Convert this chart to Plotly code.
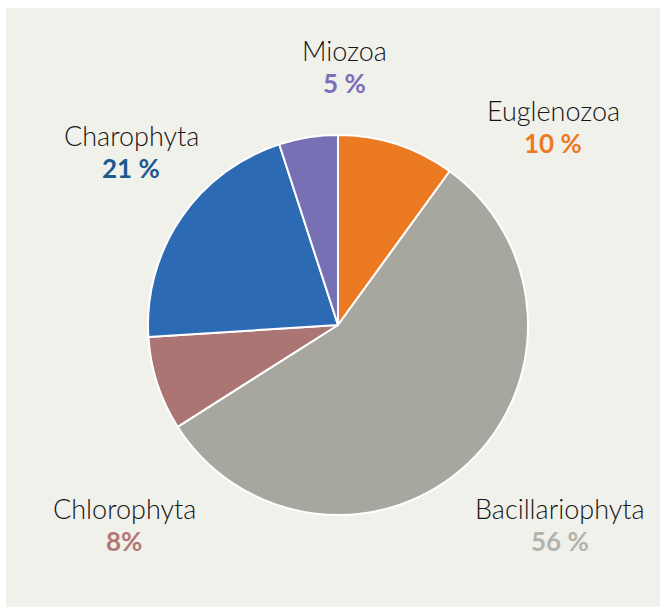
import plotly.graph_objects as go

W, H = 662, 609

categories = ["Euglenozoa", "Bacillariophyta", "Chlorophyta", "Charophyta", "Miozoa"]
values = [10, 56, 8, 21, 5]
pct_labels = ["10 %", "56 %", "8%", "21 %", "5 %"]
slice_colors = ["#ec7a23", "#a7a79f", "#ab7574", "#2d6ab4", "#7770b5"]
text_colors = ["#ec7a23", "#b3b3ac", "#b27878", "#1c5a8e", "#7b6fb8"]
# label centre positions in pixels (name line)
label_px = [(553, 110), (560, 508), (124, 508), (131, 135), (344, 50)]

cx, cy, r = 338, 325, 190

fig = go.Figure(go.Pie(
    labels=categories,
    values=values,
    sort=False,
    direction="clockwise",
    rotation=0,
    marker=dict(colors=slice_colors, line=dict(color="white", width=2)),
    textinfo="none",
    hoverinfo="label+percent",
    domain=dict(x=[(cx - r) / W, (cx + r) / W], y=[1 - (cy + r) / H, 1 - (cy - r) / H]),
    showlegend=False,
))

font_family = "Lato, 'Open Sans', sans-serif"
annotations = []
for name, pct, col, (px, py) in zip(categories, pct_labels, text_colors, label_px):
    annotations.append(dict(
        x=px / W, y=1 - py / H, xref="paper", yref="paper",
        text=name, showarrow=False, xanchor="center", yanchor="middle",
        font=dict(family=font_family, size=27, color="#151515", weight=300),
    ))
    annotations.append(dict(
        x=px / W, y=1 - (py + 33) / H, xref="paper", yref="paper",
        text=pct, showarrow=False, xanchor="center", yanchor="middle",
        font=dict(family=font_family, size=26, color=col, weight="bold"),
    ))

fig.update_layout(
    width=W, height=H,
    margin=dict(l=0, r=0, t=0, b=0),
    paper_bgcolor="white",
    annotations=annotations,
    shapes=[dict(type="rect", xref="paper", yref="paper",
                 x0=6 / W, x1=660 / W, y0=1 - 607 / H, y1=1 - 8 / H,
                 fillcolor="#f1f1ec", line=dict(width=0), layer="below")],
)

fig.write_html("out.html", config={"displayModeBar": False},
               post_script="document.body.style.margin='0';")
